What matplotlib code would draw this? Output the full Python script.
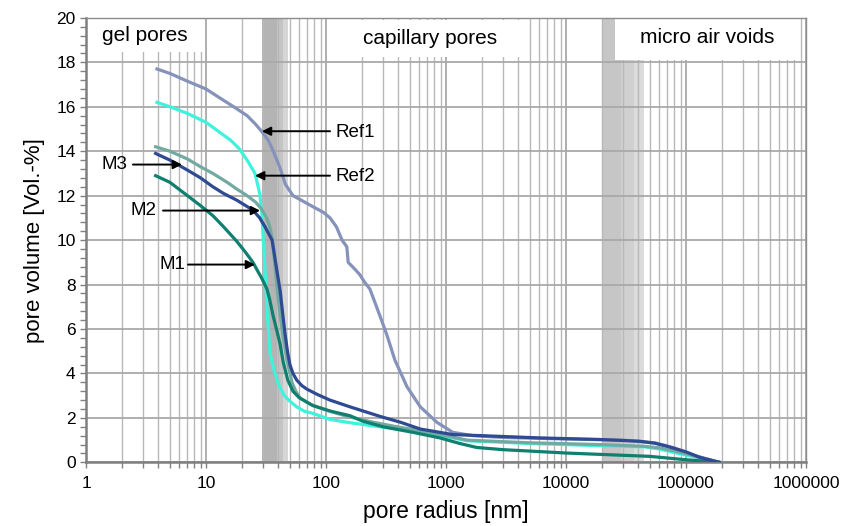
import matplotlib.pyplot as plt
from matplotlib.patches import Rectangle
from matplotlib.ticker import FixedLocator, MultipleLocator, NullFormatter

plt.rcParams['font.family'] = ['Liberation Sans', 'DejaVu Sans']

# pore radius [nm] / pore volume [Vol.-%]
ref1_x = [3.9, 5, 7, 10, 13, 17, 22, 26, 29, 33, 37, 41, 46, 53, 62, 78, 95, 108, 122, 136,
          149, 153, 170, 191, 210, 232, 281, 323, 375, 473, 610, 840, 1140, 1680, 3000,
          10000, 30000, 55000, 80000, 120000, 190000]
ref1_y = [17.7, 17.5, 17.15, 16.8, 16.4, 16.0, 15.6, 15.2, 14.9, 14.5, 13.9, 13.3, 12.5,
          12.0, 11.8, 11.5, 11.25, 11.0, 10.6, 10.0, 9.7, 9.0, 8.75, 8.45, 8.1, 7.8, 6.6,
          5.7, 4.6, 3.4, 2.5, 1.8, 1.35, 1.2, 1.12, 1.05, 1.0, 0.88, 0.65, 0.3, 0.0]

ref2_x = [3.9, 5, 7, 10, 13, 16, 19, 22, 25.6, 28, 29.2, 30, 31, 32.3, 34.2, 37, 41, 45,
          50, 57, 66, 78, 108, 160, 281, 740, 1500, 5000, 19000, 45000, 60000, 90000, 190000]
ref2_y = [16.2, 16.0, 15.7, 15.3, 14.85, 14.5, 14.1, 13.6, 13.0, 12.1, 11.2, 10.0, 8.7,
          6.8, 4.9, 4.1, 3.4, 3.0, 2.75, 2.5, 2.3, 2.2, 1.93, 1.78, 1.6, 1.3, 0.97, 0.85,
          0.75, 0.7, 0.6, 0.38, 0.0]

m3_x = [3.8, 5, 7, 9, 11.4, 14, 18, 24.6, 28, 31, 35.5, 37, 39, 41.5, 43.5, 45.5, 48, 50,
        53, 57, 63, 69, 85, 108, 158, 281, 420, 610, 1140, 2800, 6000, 19000, 41000,
        55000, 70000, 100000, 131000, 190000]
m3_y = [13.9, 13.6, 13.15, 12.8, 12.4, 12.1, 11.8, 11.35, 11.0, 10.6, 10.0, 9.4, 8.6,
        7.7, 6.7, 5.8, 4.9, 4.4, 4.0, 3.7, 3.45, 3.3, 3.05, 2.8, 2.5, 2.07, 1.8, 1.5, 1.25,
        1.17, 1.1, 1.03, 0.95, 0.86, 0.72, 0.47, 0.22, 0.0]

m2_x = [3.8, 5, 7, 9, 11.4, 15, 18, 22, 26, 29, 32, 34, 35.5, 37.6, 39.5, 41.5, 44, 47.3,
        52, 56, 60.7, 75, 100, 150, 250, 390, 735, 1500, 5000, 19200, 45000, 60700, 90000,
        131000, 190000]
m2_y = [14.2, 14.0, 13.65, 13.3, 13.0, 12.6, 12.3, 12.0, 11.7, 11.4, 11.0, 10.6, 10.1,
        8.8, 7.6, 6.6, 5.6, 4.6, 3.6, 3.2, 2.9, 2.6, 2.35, 2.07, 1.8, 1.6, 1.35, 1.0, 0.88,
        0.8, 0.72, 0.65, 0.45, 0.22, 0.0]

m1_x = [3.8, 5, 7, 9, 11.4, 14, 18, 21, 24.6, 27, 29, 32.2, 34, 36.2, 39, 41.5, 44, 48,
        53, 60, 78, 110, 158, 203, 300, 531, 890, 1300, 1800, 3000, 5300, 10000, 19000,
        50000, 94000, 190000]
m1_y = [12.9, 12.6, 12.0, 11.55, 11.1, 10.6, 9.95, 9.5, 9.0, 8.6, 8.3, 7.8, 7.3, 6.6,
        5.9, 5.3, 4.5, 3.7, 3.2, 2.9, 2.55, 2.3, 2.1, 1.85, 1.6, 1.35, 1.1, 0.85, 0.67,
        0.57, 0.5, 0.42, 0.36, 0.27, 0.13, 0.0]

x_ticks = [1, 10, 100, 1000, 10000, 100000, 1000000]
x_ticklabels = ['1', '10', '100', '1000', '10000', '100000', '1000000']
y_ticks = [0, 2, 4, 6, 8, 10, 12, 14, 16, 18, 20]

fig = plt.figure(figsize=(8.52, 5.26), dpi=100)
ax = fig.add_axes([0.101, 0.121, 0.845, 0.845])

# grey transition bands
ax.axvspan(29.2, 39, color='#b4b4b4', lw=0, zorder=1)
ax.axvspan(39, 44, color='#c4c4c4', lw=0, zorder=1)
ax.axvspan(44, 48, color='#d6d6d6', lw=0, zorder=1)
ax.axvspan(20400, 28800, color='#c6c6c6', lw=0, zorder=1)
ax.axvspan(28800, 37000, color='#d0d0d0', lw=0, zorder=1)
ax.axvspan(37000, 45000, color='#dcdcdc', lw=0, zorder=1)

# curves
lw = 2.3
ax.plot(ref1_x, ref1_y, color='#8593bb', lw=lw, zorder=3, solid_joinstyle='round')
ax.plot(ref2_x, ref2_y, color='#3ff2dc', lw=lw, zorder=3, solid_joinstyle='round')
ax.plot(m2_x, m2_y, color='#72aaa2', lw=lw, zorder=3, solid_joinstyle='round')
ax.plot(m1_x, m1_y, color='#0f7f6f', lw=lw, zorder=3, solid_joinstyle='round')
ax.plot(m3_x, m3_y, color='#2e4a92', lw=lw, zorder=3, solid_joinstyle='round')

ax.set_xscale('log')
ax.set_xlim(1, 1000000)
ax.set_ylim(0, 20)

ax.xaxis.set_major_locator(FixedLocator(x_ticks))
ax.set_xticklabels(x_ticklabels)
ax.xaxis.set_minor_locator(FixedLocator(
    [m * 10 ** e for e in range(0, 6) for m in range(2, 10)]))
ax.xaxis.set_minor_formatter(NullFormatter())
ax.set_yticks(y_ticks)
ax.yaxis.set_minor_locator(MultipleLocator(0.4))

ax.tick_params(which='both', direction='out', color='#808080', labelsize=12.5)
ax.tick_params(which='major', length=4, width=1)
ax.tick_params(which='minor', length=4, width=1)
ax.tick_params(axis='x', pad=6)

ax.set_axisbelow('line')
ax.grid(True, which='major', color='#a9a9a9', lw=1.3)
ax.xaxis.grid(True, which='minor', color='#b8b8b8', lw=1.0)

for side in ['left', 'bottom']:
    ax.spines[side].set_color('#7f7f7f')
    ax.spines[side].set_linewidth(1.8)
for side in ['top', 'right']:
    ax.spines[side].set_color('#8c8c8c')
    ax.spines[side].set_linewidth(1.0)

ax.set_xlabel('pore radius [nm]', fontsize=16.5, labelpad=6)
ax.set_ylabel('pore volume [Vol.-%]', fontsize=16, labelpad=8)

# region labels on white boxes
ax.add_patch(Rectangle((1, 18.45), 8.8, 1.55, facecolor='white', lw=0, zorder=2.5))
ax.add_patch(Rectangle((108, 18.25), 4820 - 108, 1.65, facecolor='white', lw=0, zorder=2.5))
ax.add_patch(Rectangle((25600, 18.1), 890000 - 25600, 1.85, facecolor='white', lw=0, zorder=2.5))
ax.text(3.1, 19.2, 'gel pores', fontsize=15, ha='center', va='center', zorder=4)
ax.text(730, 19.05, 'capillary pores', fontsize=15, ha='center', va='center', zorder=4)
ax.text(150000, 19.1, 'micro air voids', fontsize=15, ha='center', va='center', zorder=4)

# arrows and series names
arrow = dict(arrowstyle='-|>', color='black', lw=1.4, mutation_scale=13,
             shrinkA=0, shrinkB=0)
ax.annotate('', xy=(29.2, 14.9), xytext=(108, 14.9), arrowprops=arrow, zorder=5)
ax.text(121, 14.85, 'Ref1', fontsize=13.5, ha='left', va='center')
ax.annotate('', xy=(25.6, 12.9), xytext=(108, 12.9), arrowprops=arrow, zorder=5)
ax.text(121, 12.85, 'Ref2', fontsize=13.5, ha='left', va='center')
ax.annotate('', xy=(6.3, 13.4), xytext=(2.46, 13.4), arrowprops=arrow, zorder=5)
ax.text(2.2, 13.4, 'M3', fontsize=13.5, ha='right', va='center')
ax.annotate('', xy=(28.2, 11.33), xytext=(4.38, 11.33), arrowprops=arrow, zorder=5)
ax.text(3.83, 11.33, 'M2', fontsize=13.5, ha='right', va='center')
ax.annotate('', xy=(25.6, 8.9), xytext=(7.08, 8.9), arrowprops=arrow, zorder=5)
ax.text(6.7, 8.9, 'M1', fontsize=13.5, ha='right', va='center')

fig.savefig('out.png', dpi=100)
